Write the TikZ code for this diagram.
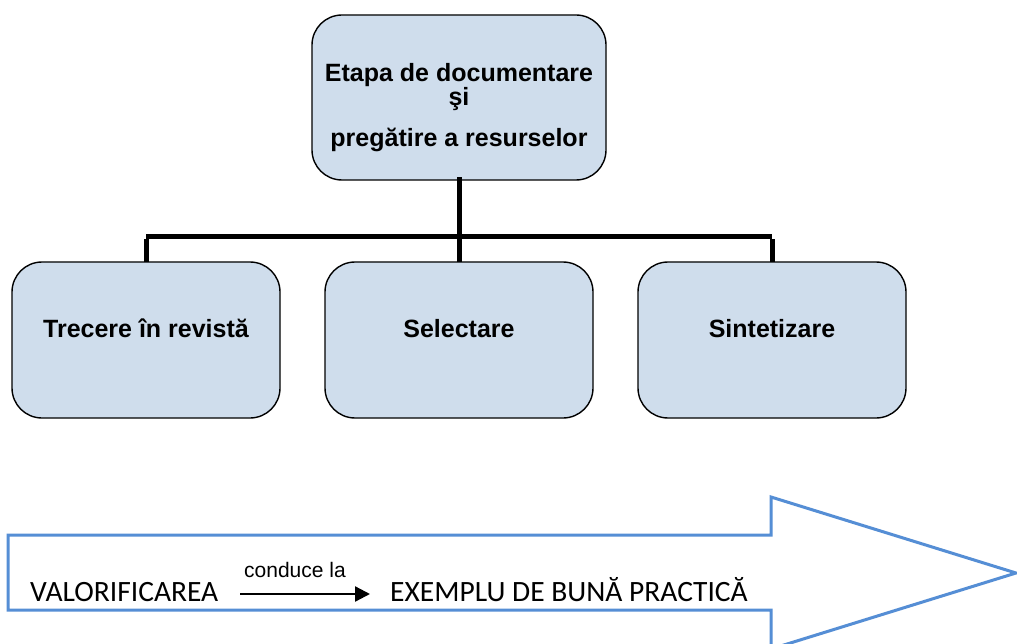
\documentclass[tikz,border=0pt]{standalone}
\usepackage{fontspec}
\setmainfont{Carlito}
\newfontfamily\arialf{Liberation Sans}
\usetikzlibrary{arrows.meta}
\definecolor{boxfill}{HTML}{CFDDEC}
\definecolor{arrowblue}{HTML}{558ED5}
\tikzset{
  stagebox/.style={draw=black, line width=1.4pt, fill=boxfill, rounded corners=30pt},
  boxtext/.style={font=\arialf\bfseries\fontsize{25}{29}\selectfont, inner sep=0pt, align=center},
  tree/.style={line width=5pt, line cap=rect},
  bigarrow/.style={draw=arrowblue, line width=3pt, line join=miter},
  plain/.style={font=\fontsize{29.5}{34}\selectfont, inner sep=0pt, anchor=base west},
  small/.style={font=\arialf\fontsize{21}{24}\selectfont, inner sep=0pt, anchor=base},
}
\begin{document}
\begin{tikzpicture}[x=1pt,y=-1pt]
\useasboundingbox (0,0) rectangle (1017,644);
\clip (0,0) rectangle (1017,644);
\fill[white] (0,0) rectangle (1017,644);
% boxes
\path[stagebox] (312,15) rectangle (606,180);
\coordinate (topc) at (459,180);
\node[boxtext] (top1) at (459,81.5) [anchor=base] {Etapa de documentare};
\node[boxtext] (top2) at (459,105.5) [anchor=base] {şi};
\node[boxtext] (top3) at (459,147) [anchor=base] {pregătire a resurselor};
\path[stagebox] (12,262) rectangle (280,418);
\path[stagebox] (325,262) rectangle (593,418);
\path[stagebox] (638,262) rectangle (906,418);
\node[boxtext] (c1) at (146,337) [anchor=base] {Trecere în revistă};
\node[boxtext] (c2) at (459,337) [anchor=base] {Selectare};
\node[boxtext] (c3) at (772,337) [anchor=base] {Sintetizare};
\coordinate (t1) at (146,262);
\coordinate (t2) at (459,262);
\coordinate (t3) at (772,262);
\coordinate (bar) at (459,237);
% tree connectors
\draw[tree] (topc) -- (bar);
\draw[line width=5pt] (bar -| t1) -- (bar -| t3);
\draw[line width=5pt] ([yshift=-2.5pt]bar -| t1) -- (t1);
\draw[line width=5pt] (bar) -- (t2);
\draw[line width=5pt] ([yshift=-2.5pt]bar -| t3) -- (t3);
% big arrow
\draw[bigarrow] (8,535) -- (771,535) -- (771,497) -- (1016,573) -- (771,649) -- (771,610) -- (8,610) -- cycle;
\node[plain] (val) at (30,601) {VALORIFICAREA};
\node[plain] (ex) at (390,601) {EXEMPLU DE BUNĂ PRACTICĂ};
\coordinate (a1) at (240,594);
\coordinate (a2) at (370,594);
\draw[line width=2.3pt, -{Triangle[length=15pt,width=15pt]}] (a1) -- (a2);
\node[small] (lab) at (295,577.5) {conduce la};
\end{tikzpicture}
\end{document}
